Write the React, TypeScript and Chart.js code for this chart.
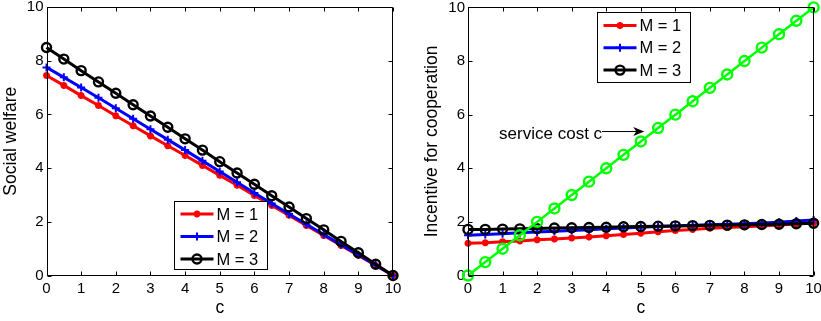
import React, { useEffect, useRef } from "react";
import { Chart, registerables } from "chart.js";
import { drawPoint } from "chart.js/helpers";

Chart.register(...registerables);

const cValues = [0, 0.5, 1, 1.5, 2, 2.5, 3, 3.5, 4, 4.5, 5, 5.5, 6, 6.5, 7, 7.5, 8, 8.5, 9, 9.5, 10];

const welfareM1 = [7.45, 7.08, 6.7, 6.33, 5.95, 5.58, 5.2, 4.83, 4.47, 4.1, 3.73, 3.36, 2.98, 2.61, 2.24, 1.86, 1.49, 1.12, 0.75, 0.37, 0];
const welfareM2 = [7.75, 7.38, 7.0, 6.62, 6.23, 5.84, 5.45, 5.06, 4.67, 4.27, 3.87, 3.47, 3.07, 2.68, 2.29, 1.91, 1.53, 1.15, 0.77, 0.39, 0];
const welfareM3 = [8.49, 8.06, 7.63, 7.21, 6.79, 6.36, 5.94, 5.52, 5.09, 4.67, 4.24, 3.82, 3.4, 2.97, 2.55, 2.12, 1.7, 1.27, 0.85, 0.42, 0];

const incentiveM1 = [1.2, 1.22, 1.26, 1.29, 1.33, 1.36, 1.4, 1.44, 1.48, 1.53, 1.58, 1.63, 1.68, 1.72, 1.76, 1.79, 1.82, 1.85, 1.88, 1.92, 1.96];
const incentiveM2 = [1.5, 1.53, 1.56, 1.59, 1.62, 1.65, 1.68, 1.71, 1.74, 1.77, 1.8, 1.83, 1.85, 1.87, 1.89, 1.91, 1.93, 1.96, 1.99, 2.03, 2.07];
const incentiveM3 = [1.72, 1.72, 1.73, 1.74, 1.75, 1.77, 1.78, 1.79, 1.8, 1.82, 1.83, 1.84, 1.85, 1.86, 1.87, 1.88, 1.89, 1.9, 1.91, 1.93, 1.95];
const serviceCost = [0, 0.5, 1, 1.5, 2, 2.5, 3, 3.5, 4, 4.5, 5, 5.5, 6, 6.5, 7, 7.5, 8, 8.5, 9, 9.5, 10];

const xTicks = [0, 1, 2, 3, 4, 5, 6, 7, 8, 9, 10];
const yTicks = [0, 2, 4, 6, 8, 10];
const seriesLabels = ["M = 1", "M = 2", "M = 3"];
const xTitle = "c";
const leftYTitle = "Social welfare";
const rightYTitle = "Incentive for cooperation";
const annotationText = "service cost c";
const annotationTail = { x: 3.88, y: 5.37 };
const annotationTip = { x: 5.1, y: 5.37 };

const FONT = "'Liberation Sans', Arial, Helvetica, sans-serif";

const styleM1 = { color: "#ff0000", pointStyle: "star", radius: 3.5, lineWidth: 3, pointBorderWidth: 2.2 };
const styleM2 = { color: "#0000ff", pointStyle: "cross", radius: 4, lineWidth: 3, pointBorderWidth: 2 };
const styleM3 = { color: "#000000", pointStyle: "circle", radius: 4.5, lineWidth: 3, pointBorderWidth: 2.4 };
const styleGreen = { color: "#00ff00", pointStyle: "circle", radius: 5, lineWidth: 2.5, pointBorderWidth: 2.4 };

function makeDataset(label: string, values: number[], st: any, order: number, inLegend: boolean) {
  return {
    label,
    data: cValues.map((c, i) => ({ x: c, y: values[i] })),
    borderColor: st.color,
    backgroundColor: "rgba(0,0,0,0)",
    borderWidth: st.lineWidth,
    pointStyle: st.pointStyle,
    pointRadius: st.radius,
    pointBorderWidth: st.pointBorderWidth,
    pointBorderColor: st.color,
    pointBackgroundColor: "rgba(0,0,0,0)",
    tension: 0,
    fill: false,
    clip: 8,
    order,
    inLegend,
    legendStyle: st,
  };
}

const matlabPlugin = {
  id: "matlab",
  afterDatasetsDraw(chart: any, _args: any, opts: any) {
    const { ctx, chartArea: a, scales } = chart;
    const xs = scales.x;
    const ys = scales.y;
    ctx.save();
    ctx.strokeStyle = "#000";
    ctx.lineWidth = 1;
    const L = Math.round(a.left) + 0.5;
    const R = Math.round(a.right) - 0.5;
    const T = Math.round(a.top) + 0.5;
    const B = Math.round(a.bottom) - 0.5;
    ctx.beginPath();
    ctx.rect(L, T, R - L, B - T);
    ctx.stroke();
    const tl = 4;
    ctx.beginPath();
    xTicks.forEach((v) => {
      const px = Math.round(xs.getPixelForValue(v)) + 0.5;
      ctx.moveTo(px, B);
      ctx.lineTo(px, B - tl);
      ctx.moveTo(px, T);
      ctx.lineTo(px, T + tl);
    });
    yTicks.forEach((v) => {
      const py = Math.round(ys.getPixelForValue(v)) + 0.5;
      ctx.moveTo(L, py);
      ctx.lineTo(L + tl, py);
      ctx.moveTo(R, py);
      ctx.lineTo(R - tl, py);
    });
    ctx.stroke();

    // annotation
    if (opts.annotation) {
      const tx = xs.getPixelForValue(annotationTail.x);
      const ty = ys.getPixelForValue(annotationTail.y);
      const hx = xs.getPixelForValue(annotationTip.x);
      const hy = ys.getPixelForValue(annotationTip.y);
      ctx.fillStyle = "#000";
      ctx.font = `17px ${FONT}`;
      ctx.textAlign = "right";
      ctx.textBaseline = "middle";
      ctx.fillText(annotationText, tx, ty + 3);
      ctx.beginPath();
      ctx.lineWidth = 1;
      ctx.moveTo(tx, ty);
      ctx.lineTo(hx - 4, hy);
      ctx.stroke();
      ctx.beginPath();
      ctx.moveTo(hx, hy);
      ctx.lineTo(hx - 11, hy - 4.5);
      ctx.lineTo(hx - 8, hy);
      ctx.lineTo(hx - 11, hy + 4.5);
      ctx.closePath();
      ctx.fill();
    }

    // legend
    const lb = opts.legendBox;
    if (lb) {
      const bx = Math.round(a.left + lb.dx) + 0.5;
      const by = Math.round(a.top + lb.dy) + 0.5;
      ctx.fillStyle = "#fff";
      ctx.fillRect(bx, by, lb.w, lb.h);
      ctx.strokeStyle = "#000";
      ctx.lineWidth = 1;
      ctx.strokeRect(bx, by, lb.w, lb.h);
      const items = chart.data.datasets.filter((d: any) => d.inLegend);
      items.forEach((d: any, i: number) => {
        const cy = by + lb.firstRow + i * lb.rowGap;
        const st = d.legendStyle;
        ctx.strokeStyle = st.color;
        ctx.lineWidth = st.lineWidth;
        ctx.beginPath();
        ctx.moveTo(bx + 6, cy);
        ctx.lineTo(bx + 39, cy);
        ctx.stroke();
        ctx.fillStyle = "rgba(0,0,0,0)";
        ctx.lineWidth = st.pointBorderWidth;
        drawPoint(ctx, { pointStyle: st.pointStyle, radius: st.radius, borderWidth: st.pointBorderWidth, rotation: 0 } as any, bx + 22.5, cy);
        ctx.fillStyle = "#000";
        ctx.font = `16.5px ${FONT}`;
        ctx.textAlign = "left";
        ctx.textBaseline = "middle";
        ctx.fillText(d.label, bx + 42, cy + 1);
      });
    }
    ctx.restore();
  },
};

function buildOptions(yTitle: string, yWidth: number, titlePad: number, rightPad: number, plug: any) {
  return {
    responsive: false,
    animation: false as const,
    devicePixelRatio: 1,
    layout: { padding: { left: 0, right: rightPad, top: 7, bottom: 0 } },
    plugins: { legend: { display: false }, tooltip: { enabled: false }, matlab: plug },
    scales: {
      x: {
        type: "linear" as const,
        min: 0,
        max: 10,
        afterBuildTicks: (s: any) => {
          s.ticks = xTicks.map((v) => ({ value: v }));
        },
        afterFit: (s: any) => {
          s.height = 45.5;
          s.paddingLeft = 0;
          s.paddingRight = 0;
        },
        grid: { display: false, drawTicks: false },
        border: { display: false },
        ticks: { color: "#000", font: { size: 15, family: FONT }, padding: 4, maxRotation: 0, autoSkip: false },
        title: { display: true, text: xTitle, color: "#000", font: { size: 17.5, family: FONT }, padding: { top: 0, bottom: 2 } },
      },
      y: {
        type: "linear" as const,
        min: 0,
        max: 10,
        afterBuildTicks: (s: any) => {
          s.ticks = yTicks.map((v) => ({ value: v }));
        },
        afterFit: (s: any) => {
          s.width = yWidth;
          s.paddingTop = 0;
          s.paddingBottom = 0;
        },
        grid: { display: false, drawTicks: false },
        border: { display: false },
        ticks: { color: "#000", font: { size: 15, family: FONT }, padding: 3, autoSkip: false },
        title: { display: true, text: yTitle, color: "#000", font: { size: 17.5, family: FONT }, padding: { top: titlePad, bottom: 0 } },
      },
    },
  };
}

function ChartCanvas({ config, width, left }: { config: any; width: number; left: number }) {
  const ref = useRef<HTMLCanvasElement>(null);
  useEffect(() => {
    if (!ref.current) return;
    const chart = new Chart(ref.current, config);
    return () => chart.destroy();
  }, [config]);
  return (
    <canvas
      ref={ref}
      width={width}
      height={321}
      style={{ position: "absolute", left, top: 0, width, height: 321, display: "block" }}
    />
  );
}

const leftConfig = {
  type: "line",
  data: {
    datasets: [
      makeDataset(seriesLabels[0], welfareM1, styleM1, 3, true),
      makeDataset(seriesLabels[1], welfareM2, styleM2, 2, true),
      makeDataset(seriesLabels[2], welfareM3, styleM3, 1, true),
    ],
  },
  options: buildOptions(leftYTitle, 46.5, 1, 17, {
    legendBox: { dx: 127.5, dy: 194, w: 93, h: 68, firstRow: 12.5, rowGap: 22.5 },
  }),
  plugins: [matlabPlugin],
};

const rightConfig = {
  type: "line",
  data: {
    datasets: [
      makeDataset(seriesLabels[0], incentiveM1, styleM1, 3, true),
      makeDataset(seriesLabels[1], incentiveM2, styleM2, 2, true),
      makeDataset(seriesLabels[2], incentiveM3, styleM3, 1, true),
      makeDataset("service cost c", serviceCost, styleGreen, 0, false),
    ],
  },
  options: buildOptions(rightYTitle, 58, 12, 3, {
    legendBox: { dx: 129, dy: 5, w: 93, h: 70, firstRow: 13, rowGap: 22.3 },
    annotation: true,
  }),
  plugins: [matlabPlugin],
};

export default function App() {
  return (
    <div style={{ position: "absolute", left: 0, top: 0, width: 821, height: 321, background: "#fff", overflow: "hidden" }}>
      <ChartCanvas config={leftConfig} width={410} left={0} />
      <ChartCanvas config={rightConfig} width={411} left={410} />
    </div>
  );
}
